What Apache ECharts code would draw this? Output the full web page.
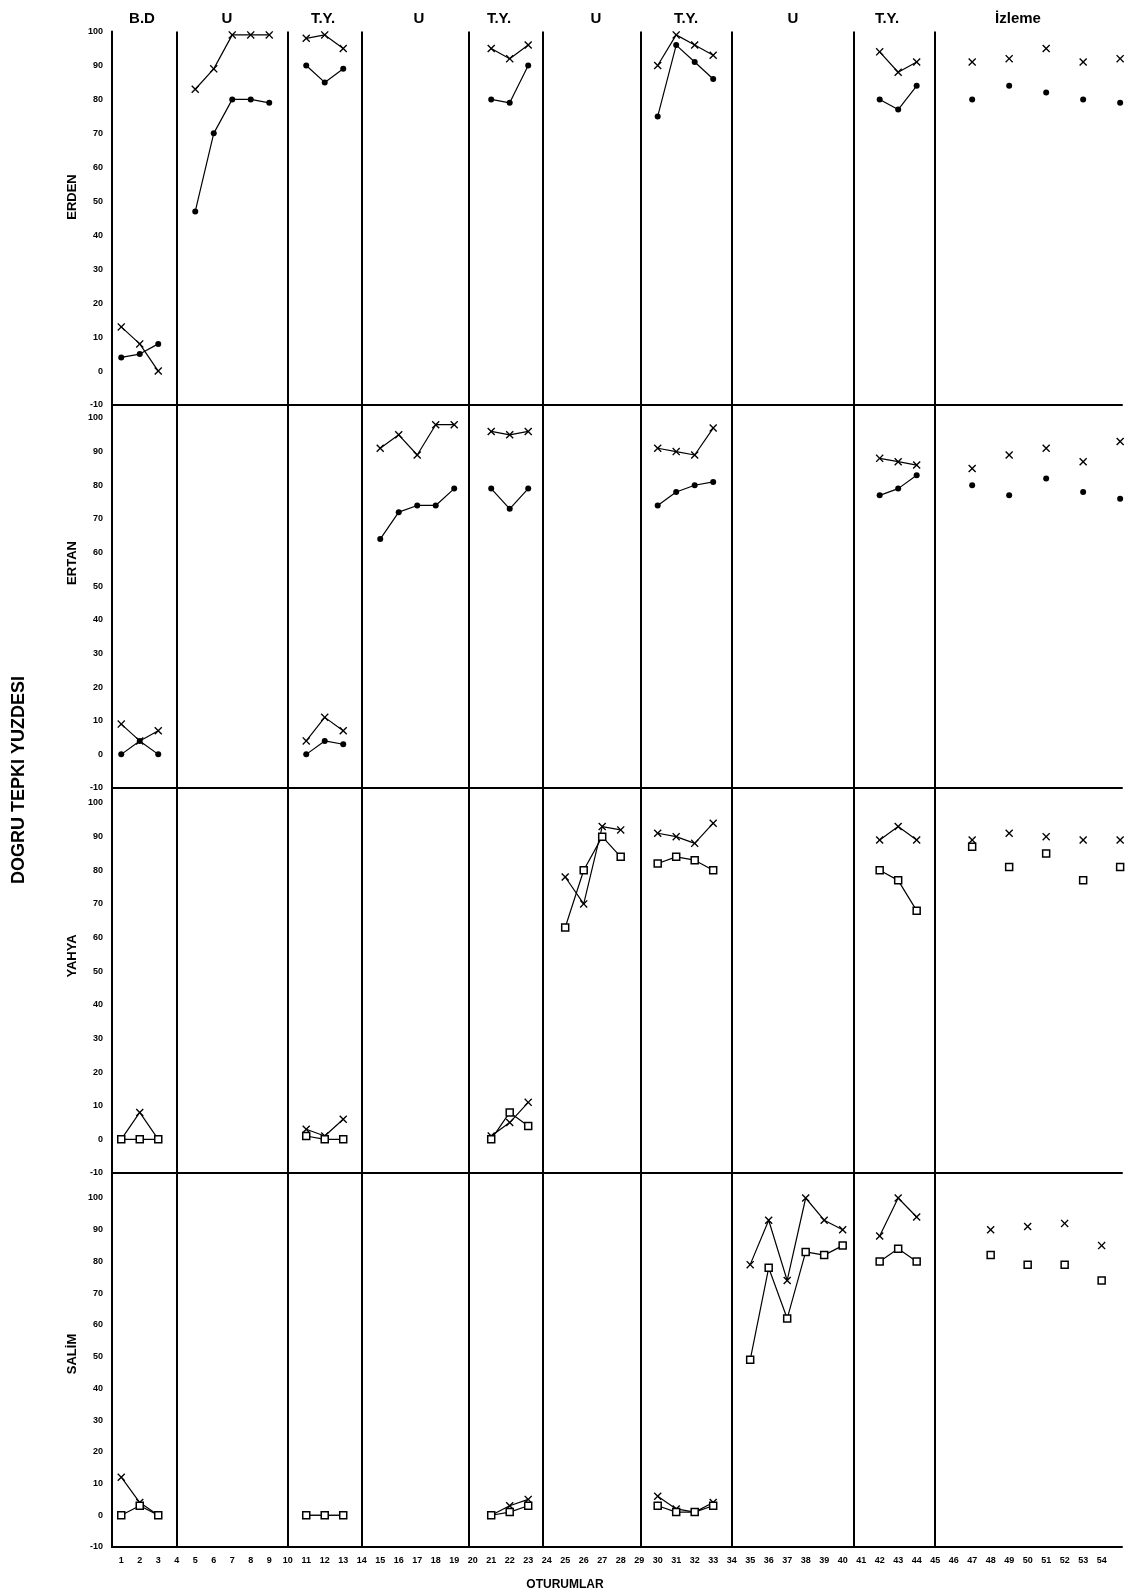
<!DOCTYPE html>
<html><head><meta charset="utf-8">
<script src="https://cdn.jsdelivr.net/npm/echarts@6/dist/echarts.min.js"></script>
<style>html,body{margin:0;padding:0;background:#fff}#c{width:1128px;height:1596px}</style>
</head><body><div id="c"></div>
<script>
// ---------- data ----------
const sessions = [1,2,3,4,5,6,7,8,9,10,11,12,13,14,15,16,17,18,19,20,21,22,23,24,25,26,27,28,29,30,31,32,33,34,35,36,37,38,39,40,41,42,43,44,45,46,47,48,49,50,51,52,53,54,55];
const xTickLabels = [1,2,3,4,5,6,7,8,9,10,11,12,13,14,15,16,17,18,19,20,21,22,23,24,25,26,27,28,29,30,31,32,33,34,35,36,37,38,39,40,41,42,43,44,45,46,47,48,49,50,51,52,53,54];
const yTickLabels = [-10,0,10,20,30,40,50,60,70,80,90,100];
const phaseLines = [4,10,14,19.8,23.8,29.1,34,40.6,45];
const phaseNames = ['B.D','U','T.Y.','U','T.Y.','U','T.Y.','U','T.Y.','İzleme'];
const participants = ['ERDEN','ERTAN','YAHYA','SALİM'];
const yTitle = 'DOGRU TEPKI YUZDESI';
const xTitle = 'OTURUMLAR';
const _ = null;

const erdenA = [13,8,0,_, 83,89,99,99,99,_, 98,99,95,_,_,_,_,_,_,_, 95,92,96,_,_,_,_,_,_, 90,99,96,93,_,_,_,_,_,_,_,_, 94,88,91,_,_, 91,_,92,_,95,_,91,_,92];
const erdenB = [4,5,8,_, 47,70,80,80,79,_, 90,85,89,_,_,_,_,_,_,_, 80,79,90,_,_,_,_,_,_, 75,96,91,86,_,_,_,_,_,_,_,_, 80,77,84,_,_, 80,_,84,_,82,_,80,_,79];

const ertanA = [9,4,7,_,_,_,_,_,_,_, 4,11,7,_, 91,95,89,98,98,_, 96,95,96,_,_,_,_,_,_, 91,90,89,97,_,_,_,_,_,_,_,_, 88,87,86,_,_, 85,_,89,_,91,_,87,_,93];
const ertanB = [0,4,0,_,_,_,_,_,_,_, 0,4,3,_, 64,72,74,74,79,_, 79,73,79,_,_,_,_,_,_, 74,78,80,81,_,_,_,_,_,_,_,_, 77,79,83,_,_, 80,_,77,_,82,_,78,_,76];

const yahyaA = [0,8,0,_,_,_,_,_,_,_, 3,1,6,_,_,_,_,_,_,_, 1,5,11,_, 78,70,93,92,_, 91,90,88,94,_,_,_,_,_,_,_,_, 89,93,89,_,_, 89,_,91,_,90,_,89,_,89];
const yahyaB = [0,0,0,_,_,_,_,_,_,_, 1,0,0,_,_,_,_,_,_,_, 0,8,4,_, 63,80,90,84,_, 82,84,83,80,_,_,_,_,_,_,_,_, 80,77,68,_,_, 87,_,81,_,85,_,77,_,81];

const salimA = [12,4,0,_,_,_,_,_,_,_, 0,0,0,_,_,_,_,_,_,_, 0,3,5,_,_,_,_,_,_, 6,2,1,4,_, 79,93,74,100,93,90,_, 88,100,94,_,_,_, 90,_,91,_,92,_,85,_];
const salimB = [0,3,0,_,_,_,_,_,_,_, 0,0,0,_,_,_,_,_,_,_, 0,1,3,_,_,_,_,_,_, 3,1,1,3,_, 49,78,62,83,82,85,_, 80,84,80,_,_,_, 82,_,79,_,79,_,74,_];

const seriesA = [erdenA, ertanA, yahyaA, salimA];
const seriesB = [erdenB, ertanB, yahyaB, salimB];

// ---------- layout ----------
const FONT = 'Liberation Sans, Arial, sans-serif';
const grids = [
  {top: 31.5, height: 373.5, yMax: 100},
  {top: 405, height: 383, yMax: 103.86},
  {top: 788, height: 385, yMax: 104.46},
  {top: 1173, height: 374, yMax: 107.88}
];
const gridLeft = 112, gridWidth = 1010;
const phaseTitleX = [142, 227, 323, 419, 499, 596, 686, 793, 887, 1018];
const nameY = [197, 563, 956, 1354];

const X_PATH = 'path://M0,1.2L1.2,0L5,3.8L8.8,0L10,1.2L6.2,5L10,8.8L8.8,10L5,6.2L1.2,10L0,8.8L3.8,5Z';

function toData(arr) {
  return sessions.map((s, i) => [s, arr[i] == null ? '-' : arr[i]]);
}

const option = {
  animation: false,
  backgroundColor: '#fff',
  grid: grids.map(g => ({left: gridLeft, width: gridWidth, top: g.top, height: g.height, containLabel: false})),
  xAxis: grids.map((g, i) => ({
    type: 'value', gridIndex: i, min: 0.5, max: 55.1,
    axisLine: {show: true, onZero: false, lineStyle: {color: '#000', width: 2}},
    axisTick: {show: false},
    splitLine: {show: false},
    axisLabel: i === 3 ? {show: true, customValues: xTickLabels, fontSize: 9, fontWeight: 'bold', color: '#000', margin: 9, fontFamily: FONT} : {show: false}
  })),
  yAxis: grids.map((g, i) => ({
    type: 'value', gridIndex: i, min: -10, max: g.yMax,
    axisLine: {show: true, onZero: false, lineStyle: {color: '#000', width: 2}},
    axisTick: {show: false},
    splitLine: {show: false},
    axisLabel: {show: true, customValues: yTickLabels, fontSize: 9, fontWeight: 'bold', color: '#000', margin: 9, fontFamily: FONT}
  })),
  series: [],
  graphic: []
};

for (let i = 0; i < 4; i++) {
  option.series.push({
    type: 'line', xAxisIndex: i, yAxisIndex: i, data: toData(seriesA[i]),
    symbol: X_PATH, symbolSize: 8, showAllSymbol: true, connectNulls: false,
    lineStyle: {color: '#000', width: 1.2},
    itemStyle: {color: '#000'},
    silent: true,
    markLine: {
      silent: true, symbol: ['none', 'none'], label: {show: false},
      lineStyle: {color: '#000', width: 2, type: 'solid'},
      data: phaseLines.map(v => ({xAxis: v}))
    }
  });
  const open = i >= 2;
  option.series.push({
    type: 'line', xAxisIndex: i, yAxisIndex: i, data: toData(seriesB[i]),
    symbol: open ? 'rect' : 'circle', symbolSize: open ? 7 : 6, showAllSymbol: true, connectNulls: false,
    lineStyle: {color: '#000', width: 1.2},
    itemStyle: open ? {color: '#fff', borderColor: '#000', borderWidth: 1.5} : {color: '#000'},
    silent: true
  });
}

phaseNames.forEach((n, k) => {
  option.graphic.push({type: 'text', x: phaseTitleX[k], y: 19, silent: true,
    style: {text: n, font: 'bold 15px ' + FONT, fill: '#000', textAlign: 'center', textVerticalAlign: 'middle'}});
});
participants.forEach((n, k) => {
  option.graphic.push({type: 'text', x: 72, y: nameY[k], rotation: Math.PI / 2, silent: true,
    style: {text: n, font: 'bold 13px ' + FONT, fill: '#000', textAlign: 'center', textVerticalAlign: 'middle'}});
});
option.graphic.push({type: 'text', x: 19, y: 780, rotation: Math.PI / 2, silent: true,
  style: {text: yTitle, font: 'bold 18px ' + FONT, fill: '#000', textAlign: 'center', textVerticalAlign: 'middle'}});
option.graphic.push({type: 'text', x: 565, y: 1585, silent: true,
  style: {text: xTitle, font: 'bold 12px ' + FONT, fill: '#000', textAlign: 'center', textVerticalAlign: 'middle'}});

const chart = echarts.init(document.getElementById('c'), null, {renderer: 'canvas'});
chart.setOption(option);
</script>
</body></html>
